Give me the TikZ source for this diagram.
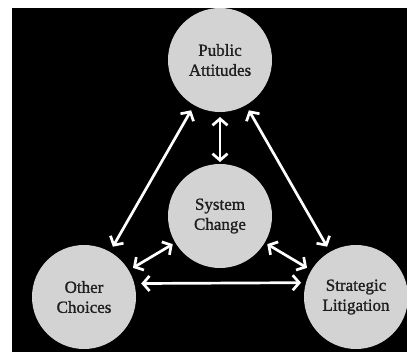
\documentclass[tikz,border=0pt]{standalone}
\usepackage{fontspec}
\setmainfont{Liberation Serif}
\newfontfamily\labfont[FakeBold=1.2]{Liberation Serif}
\usetikzlibrary{arrows.meta}
\definecolor{circfill}{RGB}{211,211,211}
\definecolor{txt}{RGB}{30,30,30}
\tikzset{
  bubble/.style={circle, fill=circfill, minimum size=104pt, inner sep=0pt, outer sep=0pt,
    align=center, text=txt, font=\labfont\fontsize{17}{20}\selectfont},
  biarrow/.style={draw=white, line width=2.7pt,
    {Straight Barb[length=6.5pt,width=15pt]}-{Straight Barb[length=6.5pt,width=15pt]}}
}
\begin{document}
\begin{tikzpicture}[x=1pt,y=-1pt]
\useasboundingbox (0,0) rectangle (407,352);
\fill[white] (0,0) rectangle (407,352);
\fill[black] (12,8) rectangle (407,352);
\node[bubble] (pa) at (220,60) {Public\\Attitudes};
\node[bubble] (sc) at (220,216) {System\\Change};
\node[bubble] (oc) at (84,297) {Other\\Choices};
\node[bubble] (sl) at (356,297) {Strategic\\Litigation};
\draw[biarrow, shorten <=6pt, shorten >=6pt] (pa) -- (oc);
\draw[biarrow, shorten <=6pt, shorten >=6pt] (pa) -- (sl);
\draw[biarrow, shorten <=5pt, shorten >=2pt] (pa.south) -- (sc.north);
\draw[biarrow, shorten <=5pt, shorten >=3pt] (oc) -- (sc);
\draw[biarrow, shorten <=3pt, shorten >=5pt] (sc) -- (sl);
\draw[biarrow, shorten <=7pt, shorten >=5pt] (oc.15.6) -- (sl.164.4);
\end{tikzpicture}
\end{document}
